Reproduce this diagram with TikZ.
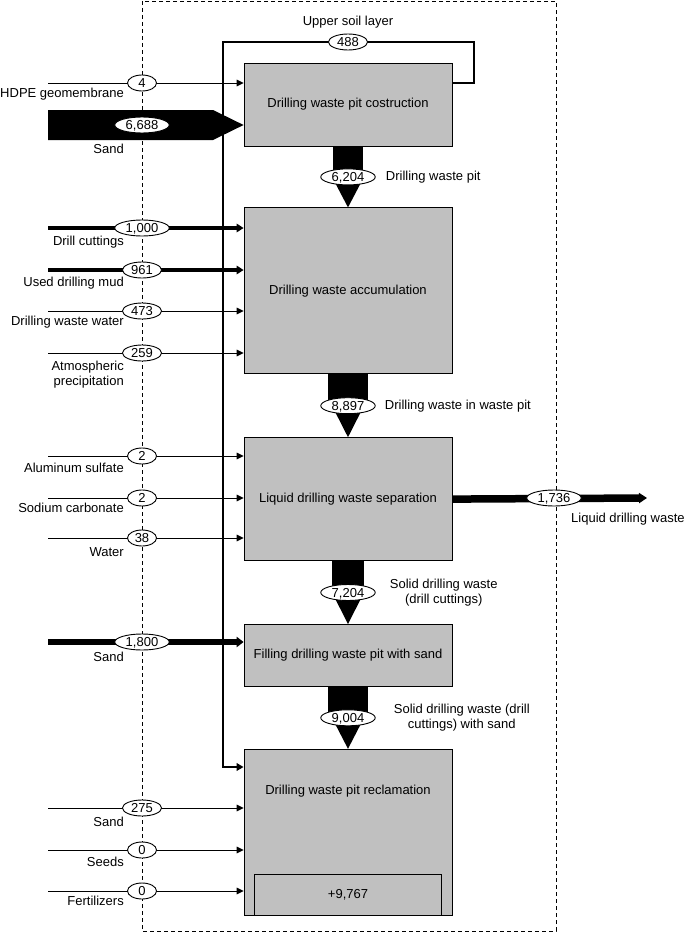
\documentclass[tikz,border=0pt]{standalone}
\usepackage{fontspec}
\setmainfont{Liberation Sans}
\usetikzlibrary{positioning,calc,shapes.geometric,arrows.meta,backgrounds}
\definecolor{boxgray}{RGB}{192,192,192}
\tikzset{
  stage/.style={draw, fill=boxgray, line width=0.8pt, minimum width=208pt, inner sep=0pt},
  val/.style={draw, fill=white, ellipse, line width=0.9pt, inner xsep=3pt, inner ysep=0pt,
    minimum width=29pt, minimum height=16pt, text height=9pt, text depth=0pt},
  lbl/.style={inner sep=0pt},
  tip/.style={-{Triangle[length=7pt,width=6pt 0.7]}},
  boundary/.style={dash pattern=on 4pt off 3pt, line width=0.8pt},
  soil/.style={line width=2.2pt, tip}
}

\begin{document}
\begin{tikzpicture}[x=1pt, y=-1pt, font=\fontsize{13}{15}\selectfont]
    \useasboundingbox (0,0) rectangle (685,934);

    % process stages
    \node [stage, minimum height=83pt] (b1) at (348,104.5) {Drilling waste pit costruction};
    \node [stage, minimum height=166pt, below=61pt of b1] (b2) {Drilling waste accumulation};
    \node [stage, minimum height=123pt, below=63pt of b2] (b3) {Liquid drilling waste separation};
    \node [stage, minimum height=62pt, below=63pt of b3] (b4) {Filling drilling waste pit with sand};
    \node [stage, minimum height=166pt, below=62pt of b4] (b5) {};
    \node [lbl] (t5) at ([yshift=-42pt]b5.north) {Drilling waste pit reclamation};
    \node [draw, line width=0.8pt, inner sep=0pt, minimum width=187pt, minimum height=41pt,
      anchor=south] (net) at (b5.south) {+9,767};

    % inputs from the left
    \foreach \nm/\yy/\val/\txt/\bx/\lw/\dy in {
        hdpe/83/4/HDPE geomembrane/b1/1/11,
        cut/228/{1,000}/Drill cuttings/b2/3.5/14,
        mud/270/961/Used drilling mud/b2/3.5/13,
        dww/311/473/Drilling waste water/b2/1/11,
        atm/353/259/{Atmospheric\\precipitation}/b2/1/22,
        alu/456/2/Aluminum sulfate/b3/1/12,
        soda/498/2/Sodium carbonate/b3/1/10,
        wat/538/38/Water/b3/1/14,
        sandb/642/{1,800}/Sand/b4/6/15,
        sandc/808/275/Sand/b5/1/14,
        seed/850/0/Seeds/b5/1/12,
        fert/891/0/Fertilizers/b5/1/10} {
      \coordinate (s\nm) at (48,\yy);
      \node [val] (e\nm) at (142,\yy) {\val};
      \node [lbl, anchor=east, align=right] (l\nm) at ([shift={(-18,\dy)}]e\nm.center) {\txt};
      \begin{scope}[on background layer]
        \draw [tip, line width=\lw pt] (s\nm) -- (s\nm -| \bx.west);
      \end{scope}
    }

    \node [val] (esand) at (142,125) {6,688};
    \node [lbl, anchor=east] (lsand) at ([shift={(-18,24)}]esand.center) {Sand};

    % flows between stages
    \node [val] (e6204) at ($(b1.south)!0.5!(b2.north)$) {6,204};
    \node [val] (e8897) at ($(b2.south)!0.5!(b3.north)$) {8,897};
    \node [val] (e7204) at ($(b3.south)!0.5!(b4.north)$) {7,204};
    \node [val] (e9004) at ($(b4.south)!0.5!(b5.north)$) {9,004};
    \node [lbl, right=10pt of e6204] (l6204) {Drilling waste pit};
    \node [lbl, right=9pt of e8897] (l8897) {Drilling waste in waste pit};
    \node [lbl, right=14pt of e7204, align=center] (l7204) {Solid drilling waste\\(drill cuttings)};
    \node [lbl, right=18pt of e9004, align=center] (l9004) {Solid drilling waste (drill\\cuttings) with sand};

    % upper soil layer
    \node [val] (e488) at (348,42) {488};
    \node [lbl, above=5pt of e488] (l488) {Upper soil layer};
    \coordinate (soilR) at (474,42);
    \coordinate (soilL) at (223,42);
    \coordinate (soilB) at (223,767);

    % output
    \node [val] (e1736) at (554,498) {1,736};
    \node [lbl, anchor=west] (l1736) at ([shift={(17,21)}]e1736.center) {Liquid drilling waste};
    \coordinate (sout) at (647,498);

    \begin{scope}[on background layer]
      \draw [boundary] (142,1) rectangle (556,931);
      \fill (48,110) -- (213,110) -- (esand -| b1.west) -- (213,140) -- (48,140) -- cycle;
      \foreach \fa/\fe/\fb/\fw in {b1/e6204/b2/15, b2/e8897/b3/20, b3/e7204/b4/16, b4/e9004/b5/20} {
        \fill ([xshift=-\fw pt]\fa.south) rectangle ([xshift=\fw pt]\fe.center);
        \fill ([xshift=-16pt]\fe.center) -- ([xshift=16pt]\fe.center) -- (\fb.north) -- cycle;
      }
      \draw [soil] (b1.east |- ehdpe) -| (soilR) -- (soilL) -- (soilB) -- (soilB -| b5.west);
      \draw [line width=7.5pt, -{Triangle[length=8pt,width=10pt]}] (b3.east) -- (sout);
    \end{scope}
  \end{tikzpicture}
\end{document}
